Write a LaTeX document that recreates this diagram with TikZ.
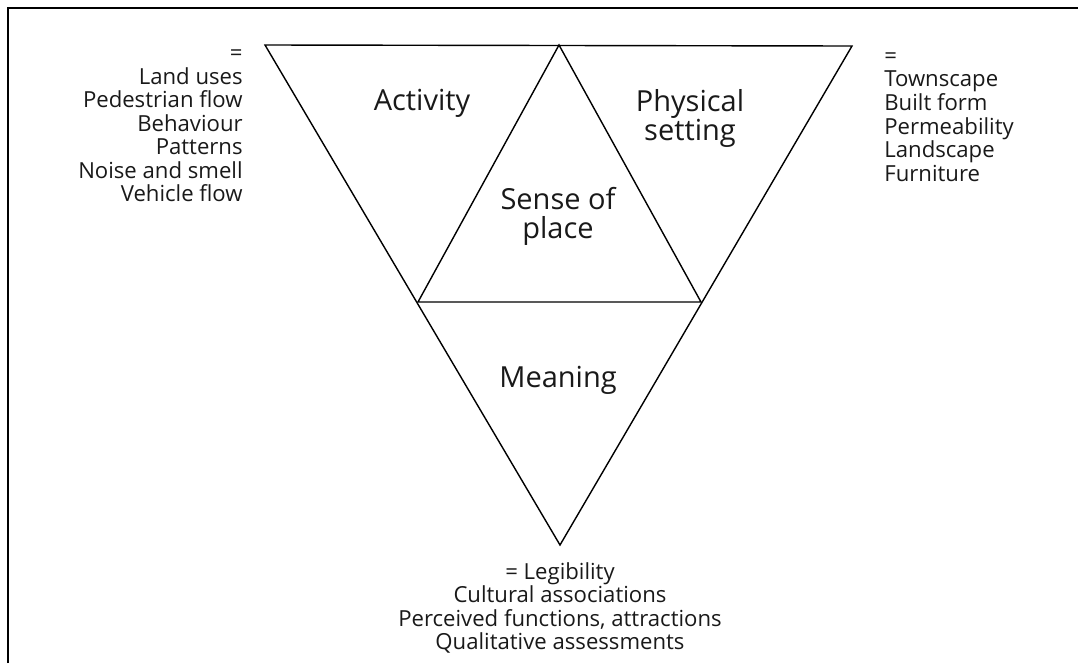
\documentclass[tikz,border=0pt]{standalone}
\usepackage{fontspec}
\setmainfont{Open Sans}
\tikzset{
  biglabel/.style={font=\fontsize{16.5}{16.5}\selectfont, align=center, text=black!90},
  listtext/.style={font=\fontsize{12.6}{13.4}\selectfont, inner sep=0pt, text=black!90}
}
\begin{document}
\begin{tikzpicture}[x=0.02cm,y=-0.02cm]
\useasboundingbox (0,0) rectangle (1078,663);
%FRAME
\draw[line width=1.7pt] (8,663) -- (8,8) -- (1078,8);

%OUTER TRIANGLE
\coordinate (tl) at (265,45);
\coordinate (tr) at (852,46);
\coordinate (apex) at (560,545);
\draw[line width=0.8pt] (tl) -- (tr) -- (apex) -- cycle;

%INNER TRIANGLE
\coordinate (top) at (559,45);
\coordinate (ml) at (418,302);
\coordinate (mr) at (701,302);
\draw[line width=0.8pt] (top) -- (ml) -- (mr) -- cycle;

%LABELS
\node[biglabel] (activity) at (422,103) {Activity};
\node[biglabel] (physical) at (690,118) {Physical\\setting};
\node[biglabel] (sense) at (558,216) {Sense of\\place};
\node[biglabel] (meaning) at (558,380) {Meaning};

%LISTS
\node[listtext, align=right, anchor=east] (actlist) at (243,126)
  {=\\Land uses\\Pedestrian flow\\Behaviour\\Patterns\\Noise and smell\\Vehicle flow};
\node[listtext, align=left, anchor=west] (physlist) at (884,117)
  {=\\Townscape\\Built form\\Permeability\\Landscape\\Furniture};
\node[listtext, align=center] (meanlist) at (560,608)
  {= Legibility\\Cultural associations\\Perceived functions, attractions\\Qualitative assessments};
\end{tikzpicture}
\end{document}
